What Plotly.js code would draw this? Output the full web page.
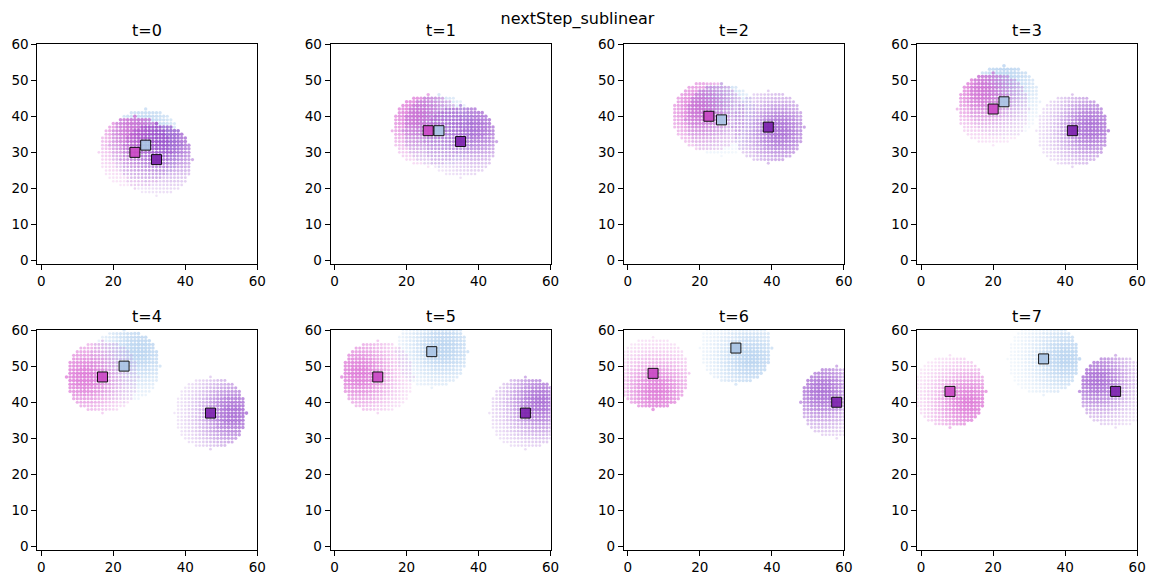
<!DOCTYPE html>
<html>
<head>
<meta charset="utf-8">
<script src="https://cdn.plot.ly/plotly-3.0.1.min.js"></script>
<style>html,body{margin:0;padding:0;background:#fff;}#chart{width:1155px;height:584px;}</style>
</head>
<body>
<div id="chart"></div>
<script>
// ---- data ----
const stepLabels = ['t=0','t=1','t=2','t=3','t=4','t=5','t=6','t=7'];
const chartTitle = 'nextStep_sublinear';

// agent positions (squares)
const magentaPosX = [26, 26, 22.5, 20, 17, 12, 7, 8];
const magentaPosY = [30, 36, 40, 42, 47, 47, 48, 43];
const bluePosX    = [29, 29, 26, 23, 23, 27, 30, 34];
const bluePosY    = [32, 36, 39, 44, 50, 54, 55, 52];
const purplePosX  = [32, 35, 39, 42, 47, 53, 58, 54];
const purplePosY  = [28, 33, 37, 36, 37, 37, 40, 43];

// peak of each agent's next-step cloud
const magentaPeakX = [26, 23, 20, 17, 12, 7, 8, 13];
const magentaPeakY = [36, 40, 42, 47, 47, 48, 43, 40];
const bluePeakX    = [29, 26, 23, 23, 27, 30, 34, 40];
const bluePeakY    = [36, 39, 44, 50, 54, 55, 52, 52];
const purplePeakX  = [36, 39, 42, 47, 53, 57, 54, 49];
const purplePeakY  = [33, 37, 36, 37, 37, 40, 43, 46];

// reach radius of the cloud around each agent (grid step 1)
const cloudRadius = 10;

const xTicks = [0, 20, 40, 60];
const yTicks = [0, 10, 20, 30, 40, 50, 60];

// ---- styling ----
const agents = [
  {name:'blue',    posX:bluePosX,    posY:bluePosY,    peakX:bluePeakX,    peakY:bluePeakY,    cloud:'rgb(150,190,232)', sq:'#a9c4e4'},
  {name:'magenta', posX:magentaPosX, posY:magentaPosY, peakX:magentaPeakX, peakY:magentaPeakY, cloud:'rgb(205,55,195)',  sq:'#c948c4'},
  {name:'purple',  posX:purplePosX,  posY:purplePosY,  peakX:purplePeakX,  peakY:purplePeakY,  cloud:'rgb(125,35,190)',  sq:'#7c22ad'}
];
const squareOrder = ['magenta','blue','purple'];

const W = 1155, H = 584;
const colLeft = [37.3, 330.6, 623.9, 917.2];
const panelW = 220;
const rowTop = [44, 330];
const panelH = 220;

const traces = [];
const layout = {
  width: W, height: H,
  margin: {l:0, r:0, t:0, b:0},
  paper_bgcolor: '#fff', plot_bgcolor: '#fff',
  showlegend: false,
  font: {family: 'DejaVu Sans', color: '#000'},
  title: {text: chartTitle, x: 0.5, xanchor: 'center', y: 1 - 18/H, yanchor: 'middle', font: {size: 16, family: 'DejaVu Sans', color:'#000'}},
  annotations: []
};

for (let k = 0; k < 8; k++) {
  const r = Math.floor(k / 4), c = k % 4;
  const xa = 'x' + (k === 0 ? '' : (k + 1));
  const ya = 'y' + (k === 0 ? '' : (k + 1));
  const xKey = 'xaxis' + (k === 0 ? '' : (k + 1));
  const yKey = 'yaxis' + (k === 0 ? '' : (k + 1));
  const x0 = colLeft[c] / W, x1 = (colLeft[c] + panelW) / W;
  const y1 = 1 - rowTop[r] / H, y0 = 1 - (rowTop[r] + panelH) / H;
  const axCommon = {
    showline: true, mirror: true, linecolor: '#000', linewidth: 1,
    ticks: 'outside', ticklen: 5, tickwidth: 1, tickcolor: '#000',
    showgrid: false, zeroline: false, fixedrange: true,
    tickfont: {size: 13.5, family: 'DejaVu Sans', color: '#000'},
    tickmode: 'array'
  };
  layout[xKey] = Object.assign({}, axCommon, {domain: [x0, x1], range: [-1.1, 60], anchor: ya, tickvals: xTicks, ticktext: xTicks.map(String)});
  layout[yKey] = Object.assign({}, axCommon, {domain: [y0, y1], range: [-0.9, 60], anchor: xa, tickvals: yTicks, ticktext: yTicks.map(String)});

  layout.annotations.push({
    text: stepLabels[k], xref: 'paper', yref: 'paper',
    x: (x0 + x1) / 2, y: y1, xanchor: 'center', yanchor: 'bottom', yshift: 2,
    showarrow: false, font: {size: 16, family: 'DejaVu Sans', color: '#000'}
  });

  // clouds
  agents.forEach(a => {
    const cx = a.posX[k], cy = a.posY[k];
    const px = a.peakX[k], py = a.peakY[k];
    const xs = [], ys = [], op = [], sz = [];
    const R = cloudRadius;
    for (let i = Math.ceil(cx - R); i <= Math.floor(cx + R); i++) {
      for (let j = Math.ceil(cy - R); j <= Math.floor(cy + R); j++) {
        const dd = (i - cx) * (i - cx) + (j - cy) * (j - cy);
        if (dd > R * R + 1e-9) continue;
        const dp2 = (i - px) * (i - px) + (j - py) * (j - py);
        const w = Math.exp(-dp2 / (2 * 7 * 7));
        xs.push(i); ys.push(j);
        op.push(0.07 + 0.55 * w);
        sz.push(2.4 + 1.4 * w);
      }
    }
    traces.push({
      type: 'scatter', mode: 'markers', x: xs, y: ys, xaxis: xa, yaxis: ya,
      hoverinfo: 'skip',
      marker: {symbol: 'circle', color: a.cloud, opacity: op, size: sz, line: {width: 0}}
    });
  });

  // squares
  squareOrder.forEach(nm => {
    const a = agents.find(q => q.name === nm);
    traces.push({
      type: 'scatter', mode: 'markers', x: [a.posX[k]], y: [a.posY[k]], xaxis: xa, yaxis: ya,
      hoverinfo: 'skip', cliponaxis: false,
      marker: {symbol: 'square', color: a.sq, size: 10, opacity: 0.92, line: {width: 1, color: '#000'}}
    });
  });
}

Plotly.newPlot('chart', traces, layout, {staticPlot: true, displayModeBar: false});
</script>
</body>
</html>
